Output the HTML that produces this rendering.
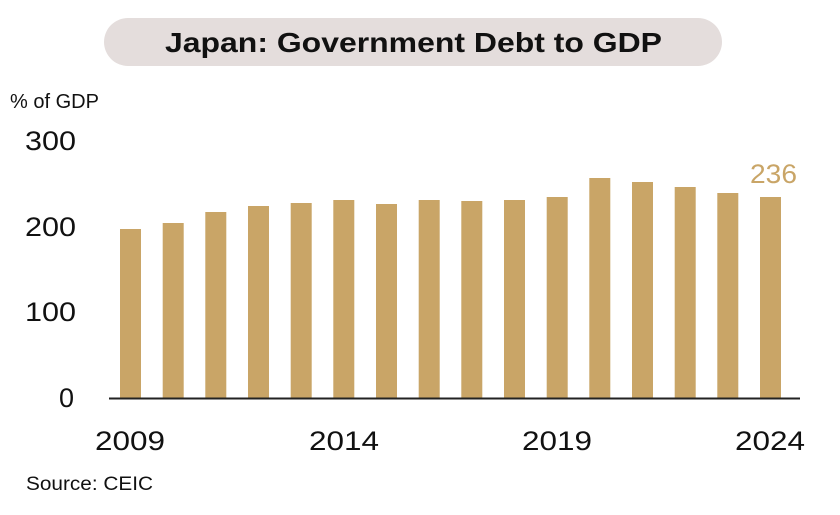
<!DOCTYPE html>
<html><head><meta charset="utf-8"><style>
html,body{margin:0;padding:0;background:#fff;}
body{width:840px;height:515px;position:relative;overflow:hidden;font-family:"Liberation Sans","DejaVu Sans",sans-serif;}
</style></head><body>
<svg width="840" height="515" xmlns="http://www.w3.org/2000/svg" style="position:absolute;left:0;top:0">
<rect x="104" y="18" width="618" height="48" rx="24" fill="#e4dddc"/>
<text x="165" y="52" textLength="497" lengthAdjust="spacingAndGlyphs" font-family="Liberation Sans, sans-serif" font-weight="bold" font-size="28" fill="#111">Japan: Government Debt to GDP</text>
<text x="10" y="108" font-size="20" fill="#111">% of GDP</text>
<g font-size="27" fill="#111">
<text x="25" y="150" textLength="51" lengthAdjust="spacingAndGlyphs">300</text>
<text x="25" y="236" textLength="51" lengthAdjust="spacingAndGlyphs">200</text>
<text x="25" y="321" textLength="51" lengthAdjust="spacingAndGlyphs">100</text>
<text x="59" y="407">0</text>
</g>
<g fill="#c9a567">
<rect x="120" y="229" width="21" height="169"/>
<rect x="162.7" y="223" width="21" height="175"/>
<rect x="205.3" y="212" width="21" height="186"/>
<rect x="248" y="206" width="21" height="192"/>
<rect x="290.7" y="203" width="21" height="195"/>
<rect x="333.3" y="200" width="21" height="198"/>
<rect x="376" y="204" width="21" height="194"/>
<rect x="418.7" y="200" width="21" height="198"/>
<rect x="461.3" y="201" width="21" height="197"/>
<rect x="504" y="200" width="21" height="198"/>
<rect x="546.7" y="197" width="21" height="201"/>
<rect x="589.3" y="178" width="21" height="220"/>
<rect x="632" y="182" width="21" height="216"/>
<rect x="674.7" y="187" width="21" height="211"/>
<rect x="717.3" y="193" width="21" height="205"/>
<rect x="760" y="197" width="21" height="201"/>
</g>
<line x1="109" y1="398.5" x2="800" y2="398.5" stroke="#222" stroke-width="2"/>
<text x="750" y="183" textLength="47" lengthAdjust="spacingAndGlyphs" font-size="27" fill="#c9a567">236</text>
<g font-size="27" fill="#111">
<text x="95" y="450" textLength="70" lengthAdjust="spacingAndGlyphs">2009</text>
<text x="309" y="450" textLength="70" lengthAdjust="spacingAndGlyphs">2014</text>
<text x="522" y="450" textLength="70" lengthAdjust="spacingAndGlyphs">2019</text>
<text x="735" y="450" textLength="70" lengthAdjust="spacingAndGlyphs">2024</text>
</g>
<text x="26" y="490" textLength="127" lengthAdjust="spacingAndGlyphs" font-size="19" fill="#111">Source: CEIC</text>
</svg>
</body></html>
